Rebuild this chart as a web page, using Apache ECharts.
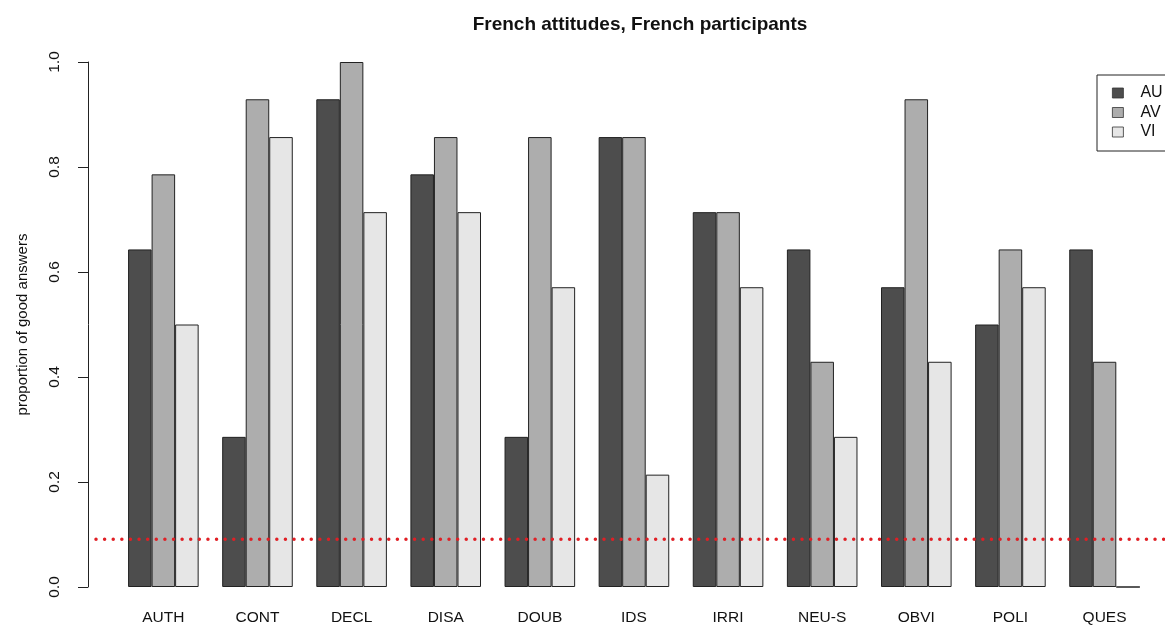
<!DOCTYPE html>
<html>
<head>
<meta charset="utf-8">
<script src="https://cdn.jsdelivr.net/npm/echarts@6/dist/echarts.min.js"></script>
<style>
html,body{margin:0;padding:0;background:#fff;}
#chart{width:1165px;height:628px;}
</style>
</head>
<body>
<div id="chart"></div>
<script>
var categories = ['AUTH','CONT','DECL','DISA','DOUB','IDS','IRRI','NEU-S','OBVI','POLI','QUES'];
var seriesNames = ['AU','AV','VI'];
var valuesAU = [0.643, 0.286, 0.929, 0.786, 0.286, 0.857, 0.714, 0.643, 0.571, 0.500, 0.643];
var valuesAV = [0.786, 0.929, 1.000, 0.857, 0.857, 0.857, 0.714, 0.429, 0.929, 0.643, 0.429];
var valuesVI = [0.500, 0.857, 0.714, 0.714, 0.571, 0.214, 0.571, 0.286, 0.429, 0.571, 0.000];
var chanceLevel = 1 / 11;

var colors = ['#4d4d4d', '#adadad', '#e6e6e6'];
var chart = echarts.init(document.getElementById('chart'), null, {renderer: 'canvas'});

var font = 'Liberation Sans, Arial, Helvetica, sans-serif';
var allValues = [valuesAU, valuesAV, valuesVI];

var barSeries = seriesNames.map(function (name, i) {
  return {
    name: name,
    type: 'bar',
    xAxisIndex: 0,
    yAxisIndex: 0,
    data: allValues[i],
    barGap: '0%',
    barCategoryGap: '25%',
    itemStyle: {color: colors[i], borderColor: '#222', borderWidth: 1},
    emphasis: {disabled: true},
    silent: true,
    animation: false
  };
});

var option = {
  backgroundColor: '#fff',
  animation: false,
  title: {
    text: 'French attitudes, French participants',
    left: 635,
    textAlign: 'center',
    top: 10,
    textStyle: {fontFamily: font, fontSize: 19, fontWeight: 'bold', color: '#111'}
  },
  legend: {
    orient: 'vertical',
    left: 1097,
    top: 75,
    data: seriesNames,
    icon: 'rect',
    itemWidth: 11,
    itemHeight: 10,
    itemGap: 3.5,
    padding: [10, 60, 11, 15],
    borderColor: '#222',
    borderWidth: 1,
    itemStyle: {borderWidth: 0.8, borderColor: '#333'},
    textStyle: {fontFamily: font, fontSize: 16, color: '#111', lineHeight: 10, padding: [0, 0, 0, 12]}
  },
  grid: [
    {left: 116.3, right: 13.4, top: 62, bottom: 41},
    {left: 88, right: 0, top: 62, bottom: 41}
  ],
  xAxis: [
    {
      type: 'category',
      gridIndex: 0,
      data: categories,
      axisLine: {show: false},
      axisTick: {show: false},
      axisLabel: {fontFamily: font, fontSize: 15.5, color: '#111', margin: 23}
    },
    {
      type: 'value',
      gridIndex: 1,
      min: 0,
      max: 1,
      show: false
    }
  ],
  yAxis: [
    {
      type: 'value',
      gridIndex: 0,
      min: 0,
      max: 1,
      show: false
    },
    {
      type: 'value',
      gridIndex: 1,
      min: 0,
      max: 1,
      interval: 0.2,
      name: 'proportion of good answers',
      nameLocation: 'middle',
      nameGap: 58,
      nameRotate: 90,
      nameTextStyle: {fontFamily: font, fontSize: 15, color: '#111'},
      axisLine: {show: true, lineStyle: {color: '#222', width: 1}},
      axisTick: {show: true, length: 10, lineStyle: {color: '#222'}},
      splitLine: {show: false},
      axisLabel: {
        fontFamily: font, fontSize: 15.5, color: '#111', rotate: 90, margin: 25,
        formatter: function (v) { return v.toFixed(1); }
      }
    }
  ],
  series: barSeries.concat([{
    name: 'chance',
    type: 'line',
    xAxisIndex: 1,
    yAxisIndex: 1,
    data: [[0, chanceLevel], [1, chanceLevel]],
    symbol: 'none',
    silent: true,
    lineStyle: {color: '#e01f25', width: 3.5, type: [0.01, 8.6], cap: 'round', dashOffset: -8},
    z: 5
  }])
};
chart.setOption(option);
</script>
</body>
</html>
